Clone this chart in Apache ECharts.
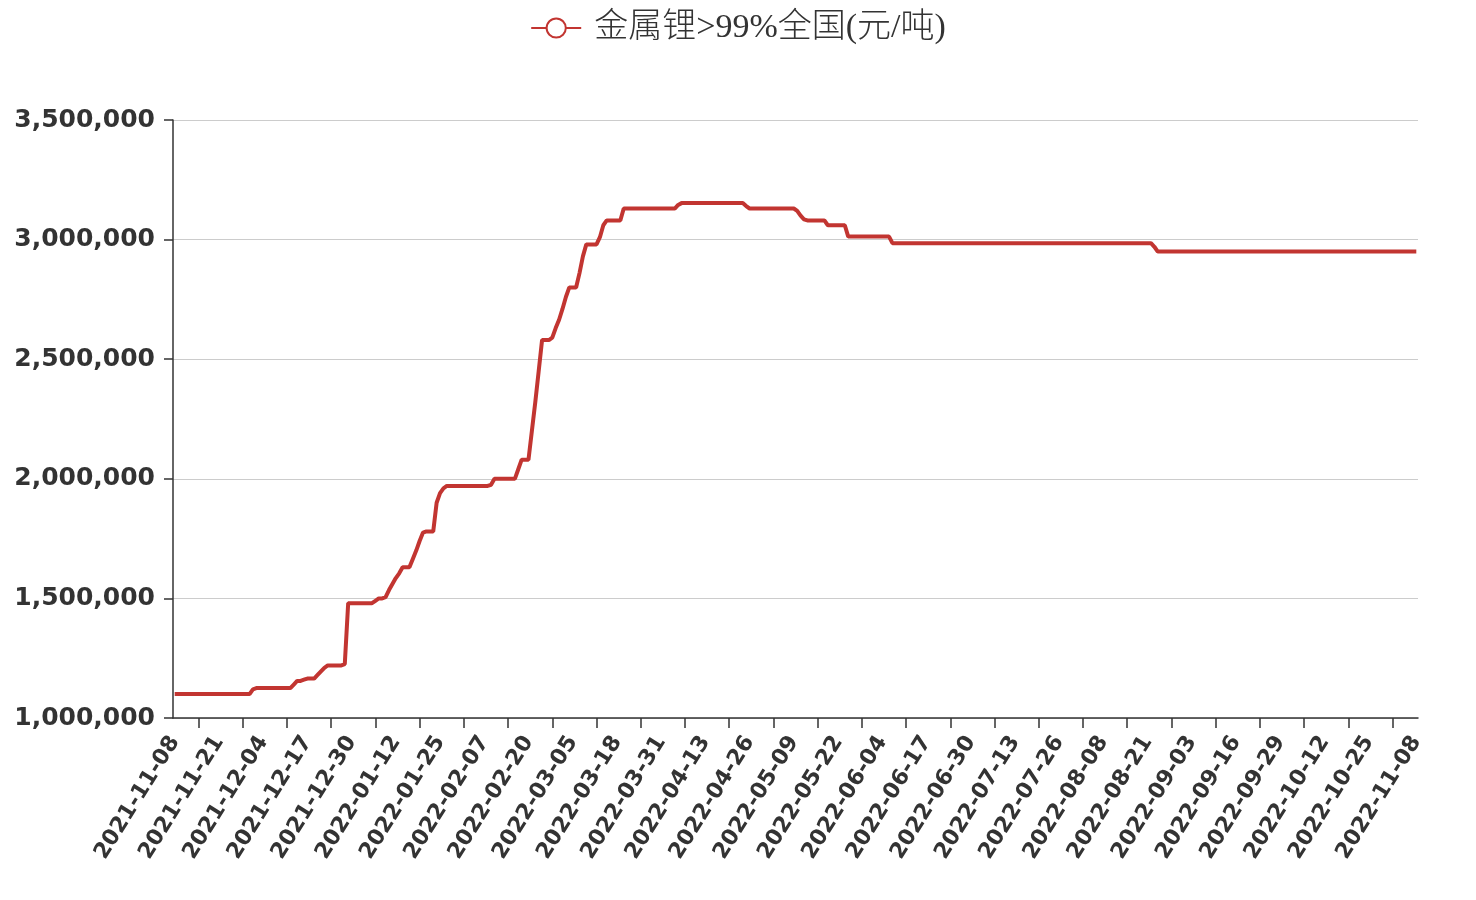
<!DOCTYPE html>
<html>
<head>
<meta charset="utf-8">
<script src="https://cdn.jsdelivr.net/npm/echarts@6/dist/echarts.min.js"></script>
<style>
html,body{margin:0;padding:0;background:#fff;}
#main{width:1476px;height:900px;}
</style>
</head>
<body>
<div id="main"></div>
<script>
// ---- data ----
const seriesName = '金属锂>99%全国(元/吨)';
const startDate = '2021-11-08';
const dayCount = 366;
const yTicks = [1000000, 1500000, 2000000, 2500000, 3000000, 3500000];
const prices = [
  1100000,1100000,1100000,1100000,1100000,1100000,1100000,1100000,1100000,1100000,
  1100000,1100000,1100000,1100000,1100000,1100000,1100000,1100000,1100000,1100000,
  1100000,1100000,1100000,1120000,1125000,1125000,1125000,1125000,1125000,1125000,
  1125000,1125000,1125000,1125000,1125000,1140000,1155000,1155000,1160000,1165000,
  1165000,1165000,1180000,1195000,1210000,1220000,1220000,1220000,1220000,1220000,
  1225000,1480000,1480000,1480000,1480000,1480000,1480000,1480000,1480000,1490000,
  1500000,1500000,1505000,1535000,1560000,1585000,1605000,1630000,1630000,1630000,
  1665000,1700000,1740000,1775000,1780000,1780000,1780000,1900000,1940000,1960000,
  1970000,1970000,1970000,1970000,1970000,1970000,1970000,1970000,1970000,1970000,
  1970000,1970000,1970000,1975000,2000000,2000000,2000000,2000000,2000000,2000000,
  2000000,2040000,2080000,2080000,2080000,2200000,2320000,2450000,2580000,2580000,
  2580000,2590000,2630000,2665000,2710000,2760000,2800000,2800000,2800000,2860000,
  2930000,2980000,2980000,2980000,2980000,3010000,3060000,3080000,3080000,3080000,
  3080000,3080000,3130000,3130000,3130000,3130000,3130000,3130000,3130000,3130000,
  3130000,3130000,3130000,3130000,3130000,3130000,3130000,3130000,3145000,3152500,
  3152500,3152500,3152500,3152500,3152500,3152500,3152500,3152500,3152500,3152500,
  3152500,3152500,3152500,3152500,3152500,3152500,3152500,3152500,3140000,3130000,
  3130000,3130000,3130000,3130000,3130000,3130000,3130000,3130000,3130000,3130000,
  3130000,3130000,3130000,3120000,3100000,3085000,3080000,3080000,3080000,3080000,
  3080000,3080000,3060000,3060000,3060000,3060000,3060000,3060000,3012500,3012500,
  3012500,3012500,3012500,3012500,3012500,3012500,3012500,3012500,3012500,3012500,
  3012500,2985000,2985000,2985000,2985000,2985000,2985000,2985000,2985000,2985000,
  2985000,2985000,2985000,2985000,2985000,2985000,2985000,2985000,2985000,2985000,
  2985000,2985000,2985000,2985000,2985000,2985000,2985000,2985000,2985000,2985000,
  2985000,2985000,2985000,2985000,2985000,2985000,2985000,2985000,2985000,2985000,
  2985000,2985000,2985000,2985000,2985000,2985000,2985000,2985000,2985000,2985000,
  2985000,2985000,2985000,2985000,2985000,2985000,2985000,2985000,2985000,2985000,
  2985000,2985000,2985000,2985000,2985000,2985000,2985000,2985000,2985000,2985000,
  2985000,2985000,2985000,2985000,2985000,2985000,2985000,2985000,2970000,2950000,
  2950000,2950000,2950000,2950000,2950000,2950000,2950000,2950000,2950000,2950000,
  2950000,2950000,2950000,2950000,2950000,2950000,2950000,2950000,2950000,2950000,
  2950000,2950000,2950000,2950000,2950000,2950000,2950000,2950000,2950000,2950000,
  2950000,2950000,2950000,2950000,2950000,2950000,2950000,2950000,2950000,2950000,
  2950000,2950000,2950000,2950000,2950000,2950000,2950000,2950000,2950000,2950000,
  2950000,2950000,2950000,2950000,2950000,2950000,2950000,2950000,2950000,2950000,
  2950000,2950000,2950000,2950000,2950000,2950000,2950000,2950000,2950000,2950000,
  2950000,2950000,2950000,2950000,2950000,2950000
];

// category dates (daily)
const dates = [];
(function(){
  const d0 = new Date(startDate + 'T00:00:00Z');
  for (let i = 0; i < dayCount; i++) {
    const d = new Date(d0.getTime() + i * 86400000);
    dates.push(d.toISOString().slice(0, 10));
  }
})();

const chart = echarts.init(document.getElementById('main'), null, {renderer: 'canvas'});
chart.setOption({
  animation: false,
  backgroundColor: '#fff',
  legend: {
    top: 6,
    left: 'center',
    itemWidth: 50,
    itemHeight: 24,
    itemGap: 10,
    textStyle: {fontSize: 34, color: '#333', fontFamily: "'Liberation Serif', 'Noto Sans CJK SC'",
      fontWeight: 300, padding: [0, 0, 0, 8]}
  },
  grid: {left: 173, right: 58, top: 120, bottom: 182, containLabel: false},
  xAxis: {
    type: 'category',
    data: dates,
    boundaryGap: true,
    axisLine: {show: true, lineStyle: {color: '#333', width: 1.5}},
    axisTick: {show: true, length: 10, alignWithLabel: true,
      interval: function (i) { return i % 13 === 7; },
      lineStyle: {color: '#333', width: 1.5}},
    axisLabel: {
      interval: 12, showMaxLabel: true, rotate: 58, margin: 20,
      fontSize: 22, fontWeight: 'bold', color: '#333', fontFamily: 'DejaVu Sans'
    },
    splitLine: {show: false}
  },
  yAxis: {
    type: 'value',
    min: yTicks[0], max: yTicks[yTicks.length - 1], interval: yTicks[1] - yTicks[0],
    axisLine: {show: true, lineStyle: {color: '#333', width: 1.5}},
    axisTick: {show: true, length: 9, lineStyle: {color: '#333', width: 1.5}},
    axisLabel: {margin: 18, fontSize: 25, fontWeight: 'bold', color: '#333', fontFamily: 'DejaVu Sans'},
    splitLine: {show: true, lineStyle: {color: '#ccc', width: 1.2}}
  },
  series: [{
    name: seriesName,
    type: 'line',
    data: prices,
    symbol: 'emptyCircle',
    symbolSize: 8,
    showSymbol: false,
    color: '#c23531',
    lineStyle: {color: '#c23531', width: 4},
    itemStyle: {color: '#c23531'}
  }]
});
</script>
</body>
</html>
